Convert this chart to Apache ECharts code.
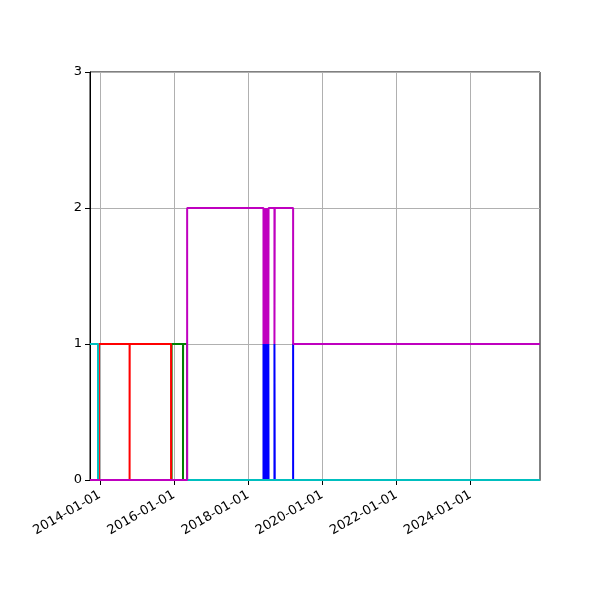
<!DOCTYPE html>
<html>
<head>
<meta charset="utf-8">
<script src="https://cdn.jsdelivr.net/npm/echarts@6/dist/echarts.min.js"></script>
<style>
  html, body { margin: 0; padding: 0; background: #fff; }
  #chart { width: 600px; height: 600px; }
</style>
</head>
<body>
<div id="chart"></div>
<script>
// x range and tick dates
const xStart = '2013-09-26';
const xEnd = '2025-11-15';
const tickDates = ['2014-01-01', '2016-01-01', '2018-01-01', '2020-01-01', '2022-01-01', '2024-01-01'];
const yTicks = [0, 1, 2, 3];

// step series: [date, value], value holds until the next date
const blueSteps = [
  [xStart, 0],
  ['2018-06-01', 1], ['2018-06-03', 0], ['2018-06-07', 1], ['2018-06-09', 0],
  ['2018-06-13', 1], ['2018-06-15', 0], ['2018-06-19', 1], ['2018-06-21', 0],
  ['2018-06-25', 1], ['2018-06-27', 0], ['2018-07-01', 1], ['2018-07-03', 0],
  ['2018-07-07', 1], ['2018-07-09', 0], ['2018-07-13', 1], ['2018-07-15', 0],
  ['2018-07-19', 1], ['2018-07-21', 0],
  ['2018-09-17', 1], ['2018-09-20', 0],
  ['2019-03-20', 1],
  [xEnd, 1]
];
const greenSteps = [
  [xStart, 0], ['2015-12-09', 1], ['2016-03-30', 0], ['2016-03-31', 1], ['2016-05-09', 0], [xEnd, 0]
];
const redSteps = [
  [xStart, 0], ['2013-12-23', 1], ['2014-10-21', 0], ['2014-10-22', 1], ['2015-12-04', 0], [xEnd, 0]
];
const cyanSteps = [
  [xStart, 1], ['2013-12-14', 0], [xEnd, 0]
];
const magentaSteps = [
  [xStart, 0],
  ['2016-05-10', 2],
  ['2018-06-01', 1], ['2018-06-03', 2], ['2018-06-07', 1], ['2018-06-09', 2],
  ['2018-06-13', 1], ['2018-06-15', 2], ['2018-06-19', 1], ['2018-06-21', 2],
  ['2018-06-25', 1], ['2018-06-27', 2], ['2018-07-01', 1], ['2018-07-03', 2],
  ['2018-07-07', 1], ['2018-07-09', 2], ['2018-07-13', 1], ['2018-07-15', 2],
  ['2018-07-19', 1], ['2018-07-21', 2],
  ['2018-09-17', 1], ['2018-09-20', 2],
  ['2019-03-20', 1],
  [xEnd, 1]
];

function ts(s) {
  return Date.UTC(+s.slice(0, 4), +s.slice(5, 7) - 1, +s.slice(8, 10));
}

function toData(steps) {
  return steps.map(p => [ts(p[0]), p[1]]);
}

function pad(n) {
  return n < 10 ? '0' + n : '' + n;
}

function stepSeries(steps, color) {
  return {
    type: 'line',
    step: 'end',
    data: toData(steps),
    showSymbol: false,
    symbol: 'none',
    lineStyle: { color: color, width: 2 },
    itemStyle: { color: color }
  };
}

const chart = echarts.init(document.getElementById('chart'), null, { renderer: 'canvas' });

chart.setOption({
  animation: false,
  backgroundColor: '#fff',
  grid: {
    left: 90, right: 60, top: 72, bottom: 120,
    show: true, borderColor: '#000', borderWidth: 1,
    containLabel: false
  },
  xAxis: {
    type: 'value',
    min: ts(xStart),
    max: ts(xEnd),
    axisLine: { show: true, onZero: false, lineStyle: { color: '#000', width: 1 } },
    axisTick: {
      show: true, inside: false, length: 5,
      customValues: tickDates.map(ts),
      lineStyle: { color: '#000', width: 1 }
    },
    axisLabel: {
      customValues: tickDates.map(ts),
      rotate: 30,
      color: '#000',
      fontFamily: 'DejaVu Sans',
      fontSize: 13,
      margin: 14,
      hideOverlap: false,
      interval: 0,
      formatter: function (v) {
        const d = new Date(v);
        return d.getUTCFullYear() + '-' + pad(d.getUTCMonth() + 1) + '-' + pad(d.getUTCDate());
      }
    },
    splitLine: { show: true, lineStyle: { color: '#b0b0b0', width: 1 } }
  },
  yAxis: {
    type: 'value',
    min: yTicks[0],
    max: yTicks[yTicks.length - 1],
    interval: 1,
    axisLine: { show: true, lineStyle: { color: '#000', width: 1 } },
    axisTick: { show: true, inside: false, length: 5, lineStyle: { color: '#000', width: 1 } },
    axisLabel: { color: '#000', fontFamily: 'DejaVu Sans', fontSize: 13, margin: 8 },
    splitLine: { show: true, lineStyle: { color: '#b0b0b0', width: 1 } }
  },
  series: [
    stepSeries(blueSteps, '#0000ff'),
    stepSeries(greenSteps, '#008000'),
    stepSeries(redSteps, '#ff0000'),
    stepSeries(cyanSteps, '#00bfbf'),
    stepSeries(magentaSteps, '#bf00bf')
  ]
});
</script>
</body>
</html>
